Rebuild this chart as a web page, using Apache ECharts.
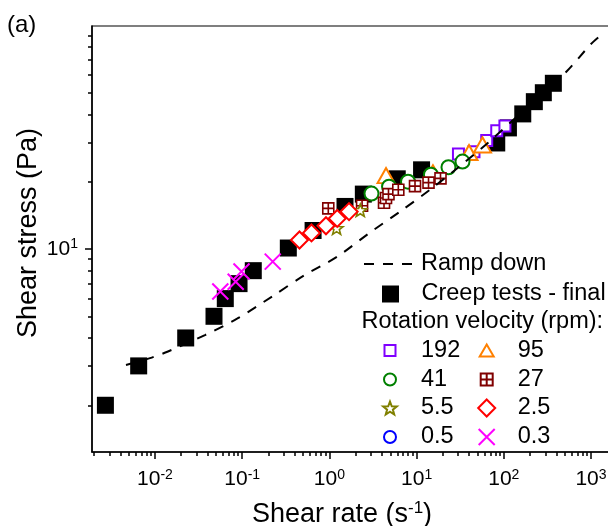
<!DOCTYPE html>
<html><head><meta charset="utf-8">
<script src="https://cdn.jsdelivr.net/npm/echarts@6/dist/echarts.min.js"></script>
<style>html,body{margin:0;padding:0;background:#fff}#c{width:608px;height:526px}</style>
</head><body><div id="c"></div>
<script>
// ---- data ----
const creepX = [0.0027, 0.0065, 0.0225, 0.0475, 0.064, 0.092, 0.134, 0.338, 0.65, 1.51, 2.45, 6.0, 11.4, 83, 113, 165, 224, 284, 370];
const creepY = [2.0, 3.0, 4.0, 5.0, 6.0, 7.0, 8.0, 10.1, 12.1, 15.5, 17.6, 20.6, 22.6, 29.8, 34.8, 40.2, 45.6, 50.0, 55.1];
const rampX = [0.00465, 0.00876, 0.0141, 0.0374, 0.0883, 0.22, 0.511, 1.24, 2.92, 6.45, 14.2, 31.5, 69.5, 153, 297, 531, 1000, 1268];
const rampY = [3.03, 3.25, 3.48, 4.12, 4.89, 6.13, 7.61, 9.26, 11.85, 14.7, 18.4, 23.5, 30.4, 40.2, 50.6, 62.5, 82.6, 89.7];
const rpm192X = [30.2, 45.5, 63.7, 83, 103];
const rpm192Y = [26.6, 27.2, 30.6, 33.8, 35.5];
const rpm95X = [4.46, 15.4, 39.9, 57.0];
const rpm95Y = [21.3, 21.9, 27.0, 29.2];
const rpm41X = [3.04, 4.83, 7.97, 14.6, 23.2, 33.6];
const rpm41Y = [17.7, 19.0, 20.0, 21.5, 23.2, 24.6];
const rpm27X = [0.971, 2.37, 4.23, 4.46, 4.76, 6.17, 9.59, 13.7, 18.8];
const rpm27Y = [15.2, 15.6, 16.1, 16.9, 17.6, 18.4, 19.1, 19.8, 20.7];
const rpm5_5X = [1.21, 2.26];
const rpm5_5Y = [12.4, 14.9];
const rpm2_5X = [0.454, 0.623, 0.914, 1.23, 1.68];
const rpm2_5Y = [10.97, 11.8, 12.7, 13.7, 14.7];
const rpm0_5X = [];
const rpm0_5Y = [];
const rpm0_3X = [0.0561, 0.0842, 0.0982, 0.224];
const rpm0_3Y = [6.45, 7.14, 7.93, 8.78];
const xTickExp = [-2, -1, 0, 1, 2, 3];
const yTickExp = [1];
const xMin = 0.001895, xMax = 1741, yMin = 1.236, yMax = 99.4;

// ---- helpers ----
const FONT = '"Liberation Sans", Arial, Helvetica, sans-serif';
const zip = (xs, ys) => xs.map((x, i) => [x, ys[i]]);
const major = exps => exps.map(e => Math.pow(10, e));
function minorTicks(lo, hi) {
  const out = [];
  for (let e = -4; e <= 4; e++) for (let m = 2; m <= 9; m++) {
    const v = m * Math.pow(10, e);
    if (v > lo && v < hi) out.push(v);
  }
  return out;
}
const SYM = {
  filled: 'path://M0,0H10V10H0Z',
  square: 'path://M0,0H10V10H0Z',
  tri: 'path://M0,12L7,0L14,12Z',
  grid: 'path://M0,0H10V10H0Z M5,0V10 M0,5H10',
  star: 'path://M10,0L12.47,6.6L19.51,6.91L14,11.3L15.88,18.09L10,14.2L4.12,18.09L6,11.3L0.49,6.91L7.53,6.6Z',
  diamond: 'path://M5,0L10,5L5,10L0,5Z',
  cross: 'path://M0,0L10,10M10,0L0,10'
};
function scatter(name, xs, ys, symbol, size, color, bw) {
  return {
    type: 'scatter', name, data: zip(xs, ys), symbol, symbolSize: size,
    itemStyle: { color: '#fff', borderColor: color, borderWidth: bw, opacity: 1 },
    emphasis: { disabled: true }, silent: true
  };
}
const supRich = {
  b: { fontSize: 21, lineHeight: 23, fontFamily: FONT, color: '#000' },
  s: { fontSize: 14, lineHeight: 14, fontFamily: FONT, color: '#000', verticalAlign: 'top' }
};
const fmt = v => '{b|10}{s|' + Math.round(Math.log10(v)) + '}';

const series = [
  { type: 'line', name: 'Ramp down', data: zip(rampX, rampY), symbol: 'none', showSymbol: false, smooth: 0.3,
    lineStyle: { color: '#000', width: 2, type: [10, 9] }, itemStyle: { color: '#000' }, emphasis: { disabled: true }, silent: true },
  { type: 'scatter', name: 'Creep tests - final', data: zip(creepX, creepY), symbol: SYM.filled, symbolSize: 17,
    itemStyle: { color: '#000', borderWidth: 0, opacity: 1 }, emphasis: { disabled: true }, silent: true },
  scatter('192', rpm192X, rpm192Y, SYM.square, 11, '#8000FF', 2),
  scatter('95', rpm95X, rpm95Y, SYM.tri, [17, 15], '#FF8000', 2),
  scatter('41', rpm41X, rpm41Y, 'circle', 14, '#008000', 2),
  scatter('27', rpm27X, rpm27Y, SYM.grid, 11, '#800000', 1.6),
  scatter('5.5', rpm5_5X, rpm5_5Y, SYM.star, [13, 12.4], '#808000', 1.6),
  scatter('2.5', rpm2_5X, rpm2_5Y, SYM.diamond, 17, '#FF0000', 2),
  scatter('0.5', rpm0_5X, rpm0_5Y, 'circle', 12, '#0000FF', 2),
  scatter('0.3', rpm0_3X, rpm0_3Y, SYM.cross, 16, '#FF00FF', 2)
];

// legend layout (one legend per row item); w = icon width, bw = stroke width
const legendLayout = [
  { name: 'Ramp down', cx: 389, cy: 264, h: 14, line: true, extra: { itemStyle: { opacity: 0 } } },
  { name: 'Creep tests - final', cx: 390.5, cy: 294, h: 17, w: 17, bw: 0 },
  { name: '192', cx: 390, cy: 350.5, h: 11, w: 11, bw: 2 },
  { name: '41', cx: 390, cy: 379.5, h: 12, w: 12, bw: 2 },
  { name: '5.5', cx: 390, cy: 408, h: 13, w: 13.7, bw: 2 },
  { name: '0.5', cx: 390, cy: 437, h: 12, w: 12, bw: 2 },
  { name: '95', cx: 486.7, cy: 350.5, h: 12, w: 14, bw: 2 },
  { name: '27', cx: 486.7, cy: 379.5, h: 12, w: 12, bw: 2 },
  { name: '2.5', cx: 486.7, cy: 408, h: 17, w: 17, bw: 2 },
  { name: '0.3', cx: 486.7, cy: 437, h: 16, w: 16, bw: 2 }
];
const legends = legendLayout.map(l => ({
  data: [Object.assign({ name: l.name }, l.extra || {})],
  left: l.line ? l.cx - 26 : l.cx - l.w / 2 - l.bw / 2,
  top: l.cy - 12, itemWidth: 52, itemHeight: l.h, padding: 0, itemGap: 0,
  selectedMode: false, orient: 'horizontal',
  textStyle: { fontSize: 23.5, fontFamily: FONT, color: '#000', lineHeight: 24 }
}));

const axisCommon = { type: 'log', logBase: 10, splitLine: { show: false }, minorTick: { show: false }, minorSplitLine: { show: false } };
const chart = echarts.init(document.getElementById('c'), null, { renderer: 'canvas' });
chart.setOption({
  animation: false,
  backgroundColor: '#fff',
  grid: { left: 92, top: 26, width: 520, height: 426, show: true, borderColor: '#000', borderWidth: 1.2,
          backgroundColor: 'transparent', containLabel: false, outerBoundsMode: 'none' },
  xAxis: [
    Object.assign({}, axisCommon, {
      position: 'bottom', min: xMin, max: xMax,
      axisLine: { show: true, onZero: false, lineStyle: { color: '#000', width: 1.5 } },
      axisTick: { show: true, inside: false, length: 7, lineStyle: { color: '#000', width: 1.5 }, customValues: major(xTickExp) },
      axisLabel: { show: true, customValues: major(xTickExp), margin: 16, formatter: fmt, rich: supRich }
    }),
    Object.assign({}, axisCommon, {
      position: 'bottom', min: xMin, max: xMax,
      axisLine: { show: false },
      axisTick: { show: true, inside: false, length: 4, lineStyle: { color: '#000', width: 1.5 }, customValues: minorTicks(xMin, xMax) },
      axisLabel: { show: false }
    })
  ],
  yAxis: [
    Object.assign({}, axisCommon, {
      position: 'left', min: yMin, max: yMax,
      axisLine: { show: true, onZero: false, lineStyle: { color: '#000', width: 1.5 } },
      axisTick: { show: true, inside: false, length: 7, lineStyle: { color: '#000', width: 1.5 }, customValues: major(yTickExp) },
      axisLabel: { show: true, customValues: major(yTickExp), margin: 14, formatter: fmt, rich: supRich }
    }),
    Object.assign({}, axisCommon, {
      position: 'left', min: yMin, max: yMax,
      axisLine: { show: false },
      axisTick: { show: true, inside: false, length: 4, lineStyle: { color: '#000', width: 1.5 }, customValues: minorTicks(yMin, yMax) },
      axisLabel: { show: false }
    })
  ],
  legend: legends,
  series: series,
  graphic: [
    { type: 'text', left: 7, top: 13, style: { text: '(a)', font: '24px ' + FONT, fill: '#000' } },
    { type: 'text', x: 361.5, y: 321.7, style: { text: 'Rotation velocity (rpm):', font: '23.5px ' + FONT, fill: '#000', verticalAlign: 'middle', align: 'left' } },
    { type: 'text', x: 342, y: 515, style: {
        text: '{a|Shear rate (s}{s|-1}{a|)}', align: 'center', verticalAlign: 'middle',
        rich: { a: { fontSize: 27, lineHeight: 30, fontFamily: FONT, fill: '#000', color: '#000' },
                s: { fontSize: 17, lineHeight: 17, fontFamily: FONT, fill: '#000', color: '#000', verticalAlign: 'top' } } } },
    { type: 'text', x: 29, y: 233, rotation: Math.PI / 2, style: { text: 'Shear stress (Pa)', font: '27px ' + FONT, fill: '#000', align: 'center', verticalAlign: 'middle' } }
  ]
});
</script></body></html>
